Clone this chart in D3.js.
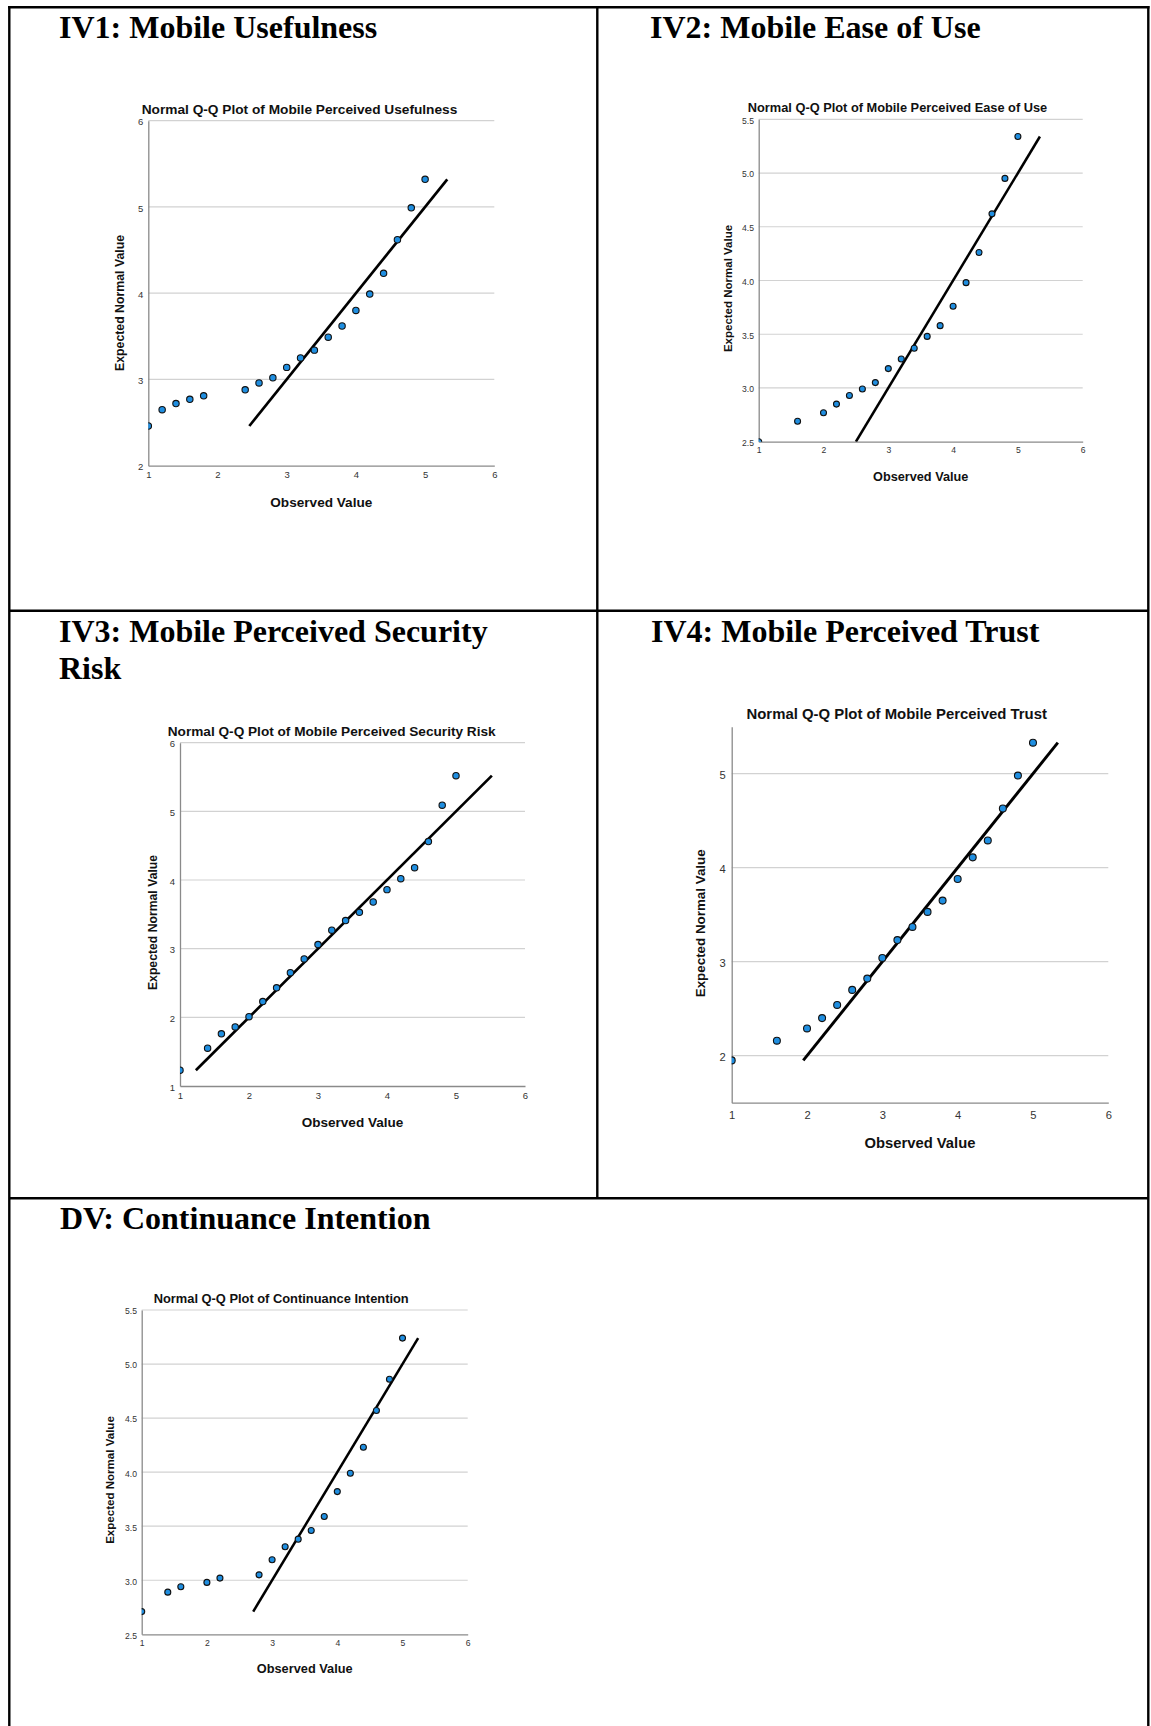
<!DOCTYPE html>
<html>
<head>
<meta charset="utf-8">
<script src="https://cdn.jsdelivr.net/npm/d3@7"></script>
<style>
  html, body { margin: 0; padding: 0; background: #fff; }
  svg { display: block; }
</style>
</head>
<body>
<svg id="page" width="1151" height="1726"></svg>
<script>
// ---- Observed item means and their expected normal quantiles ----
const usefulnessObserved = [1.0, 1.2, 1.4, 1.6, 1.8, 2.4, 2.6, 2.8, 3.0, 3.2, 3.4, 3.6, 3.8, 4.0, 4.2, 4.4, 4.6, 4.8, 5.0];
const usefulnessExpected = [2.46, 2.65, 2.72, 2.77, 2.81, 2.88, 2.96, 3.02, 3.14, 3.25, 3.34, 3.49, 3.62, 3.80, 3.99, 4.23, 4.62, 4.99, 5.32];

const easeObserved = [1.0, 1.6, 2.0, 2.2, 2.4, 2.6, 2.8, 3.0, 3.2, 3.4, 3.6, 3.8, 4.0, 4.2, 4.4, 4.6, 4.8, 5.0];
const easeExpected = [2.50, 2.69, 2.77, 2.85, 2.93, 2.99, 3.05, 3.18, 3.27, 3.37, 3.48, 3.58, 3.76, 3.98, 4.26, 4.62, 4.95, 5.34];

const securityObserved = [1.0, 1.4, 1.6, 1.8, 2.0, 2.2, 2.4, 2.6, 2.8, 3.0, 3.2, 3.4, 3.6, 3.8, 4.0, 4.2, 4.4, 4.6, 4.8, 5.0];
const securityExpected = [1.23, 1.55, 1.76, 1.86, 2.01, 2.23, 2.43, 2.65, 2.85, 3.06, 3.27, 3.41, 3.53, 3.68, 3.86, 4.02, 4.18, 4.56, 5.09, 5.52];

const trustObserved = [1.0, 1.6, 2.0, 2.2, 2.4, 2.6, 2.8, 3.0, 3.2, 3.4, 3.6, 3.8, 4.0, 4.2, 4.4, 4.6, 4.8, 5.0];
const trustExpected = [1.95, 2.16, 2.29, 2.40, 2.54, 2.70, 2.82, 3.04, 3.23, 3.37, 3.53, 3.65, 3.88, 4.11, 4.29, 4.63, 4.98, 5.33];

const continuanceObserved = [1.0, 1.4, 1.6, 2.0, 2.2, 2.8, 3.0, 3.2, 3.4, 3.6, 3.8, 4.0, 4.2, 4.4, 4.6, 4.8, 5.0];
const continuanceExpected = [2.71, 2.89, 2.94, 2.98, 3.02, 3.05, 3.19, 3.31, 3.38, 3.46, 3.59, 3.82, 3.99, 4.23, 4.57, 4.86, 5.24];

// ---- Tick labels ----
const observedTicks = [1, 2, 3, 4, 5, 6];
const intTicks26 = [2, 3, 4, 5, 6];
const intTicks16 = [1, 2, 3, 4, 5, 6];
const intTicks25 = [2, 3, 4, 5];
const halfTicks = [2.5, 3.0, 3.5, 4.0, 4.5, 5.0, 5.5];

// ---- Section headings ----
const headings = [
  { lines: ["IV1: Mobile Usefulness"], x: 59, y: 38 },
  { lines: ["IV2: Mobile Ease of Use"], x: 650, y: 38 },
  { lines: ["IV3: Mobile Perceived Security", "Risk"], x: 59, y: 642 },
  { lines: ["IV4: Mobile Perceived Trust"], x: 651, y: 642 },
  { lines: ["DV: Continuance Intention"], x: 60, y: 1229 }
];

// ---- Chart panels ----
const panels = [
  { title: "Normal Q-Q Plot of Mobile Perceived Usefulness",
    observed: usefulnessObserved, expected: usefulnessExpected,
    yDomain: [2, 6], yTicks: intTicks26, fmt: d3.format("d"), topGrid: true,
    box: { l: 148.3, r: 494.3, t: 120.7, b: 465.7 }, s: 1.0,
    titleX: 299.5, titleY: 114, yTitleX: 124, yTitleY: 303, tickFont: 9.5 },
  { title: "Normal Q-Q Plot of Mobile Perceived Ease of Use",
    observed: easeObserved, expected: easeExpected,
    yDomain: [2.5, 5.5], yTicks: halfTicks, fmt: d3.format(".1f"), topGrid: true,
    box: { l: 758.7, r: 1082.7, t: 119.3, b: 441.7 }, s: 0.935,
    titleX: 897.5, titleY: 111.7, yTitleX: 731.5, yTitleY: 288.5, tickFont: 8.6 },
  { title: "Normal Q-Q Plot of Mobile Perceived Security Risk",
    observed: securityObserved, expected: securityExpected,
    yDomain: [1, 6], yTicks: intTicks16, fmt: d3.format("d"), topGrid: true,
    box: { l: 180, r: 525, t: 742.7, b: 1086 }, s: 0.995,
    titleX: 331.7, titleY: 736, yTitleX: 157.3, yTitleY: 922.5, tickFont: 9.5 },
  { title: "Normal Q-Q Plot of Mobile Perceived Trust",
    observed: trustObserved, expected: trustExpected,
    yDomain: [1.5, 5.5], yTicks: intTicks25, fmt: d3.format("d"), topGrid: false,
    box: { l: 731.7, r: 1108.3, t: 726.7, b: 1102.7 }, s: 1.088,
    titleX: 896.7, titleY: 719.3, yTitleX: 705, yTitleY: 923.3, tickFont: 11.2 },
  { title: "Normal Q-Q Plot of Continuance Intention",
    observed: continuanceObserved, expected: continuanceExpected,
    yDomain: [2.5, 5.5], yTicks: halfTicks, fmt: d3.format(".1f"), topGrid: true,
    box: { l: 141.7, r: 467.7, t: 1310, b: 1634.3 }, s: 0.94,
    titleX: 281.2, titleY: 1303.3, yTitleX: 113.5, yTitleY: 1480, tickFont: 8.6 }
];

const svg = d3.select("#page");
svg.append("rect").attr("width", 1151).attr("height", 1726).attr("fill", "#fff");

// ---- Table frame ----
const frame = svg.append("g").attr("stroke", "#000").attr("stroke-width", 2.4).attr("fill", "none");
frame.append("line").attr("x1", 8.1).attr("x2", 1149.5).attr("y1", 7.3).attr("y2", 7.3);
frame.append("line").attr("x1", 9.3).attr("x2", 9.3).attr("y1", 6.1).attr("y2", 1726);
frame.append("line").attr("x1", 1148.3).attr("x2", 1148.3).attr("y1", 6.1).attr("y2", 1726);
frame.append("line").attr("x1", 597.3).attr("x2", 597.3).attr("y1", 7.3).attr("y2", 1198.3);
frame.append("line").attr("x1", 9.3).attr("x2", 1148.3).attr("y1", 610.7).attr("y2", 610.7);
frame.append("line").attr("x1", 9.3).attr("x2", 1148.3).attr("y1", 1198.3).attr("y2", 1198.3);

// ---- Headings ----
headings.forEach(h => {
  const t = svg.append("text")
    .attr("x", h.x).attr("y", h.y)
    .attr("font-family", "'Liberation Serif', 'Times New Roman', serif")
    .attr("font-weight", "bold").attr("font-size", 32).attr("fill", "#000");
  h.lines.forEach((ln, i) => {
    t.append("tspan").attr("x", h.x).attr("dy", i === 0 ? 0 : 36.8).text(ln);
  });
});

const sans = "'Liberation Sans', Arial, sans-serif";

// ---- Q-Q plots ----
panels.forEach((p, idx) => {
  const s = p.s;
  const x = d3.scaleLinear().domain([1, 6]).range([p.box.l, p.box.r]);
  const y = d3.scaleLinear().domain(p.yDomain).range([p.box.b, p.box.t]);
  const g = svg.append("g");

  // chart title
  g.append("text")
    .attr("x", p.titleX).attr("y", p.titleY)
    .attr("text-anchor", "middle")
    .attr("font-family", sans).attr("font-weight", "bold")
    .attr("font-size", 13.7 * s).attr("fill", "#111")
    .text(p.title);

  // horizontal gridlines
  const gridVals = p.yTicks.filter(v => v > p.yDomain[0] && (p.topGrid || v < p.yDomain[1]));
  g.append("g").selectAll("line").data(gridVals).join("line")
    .attr("x1", p.box.l).attr("x2", p.box.r)
    .attr("y1", d => y(d)).attr("y2", d => y(d))
    .attr("stroke", "#d2d2d2").attr("stroke-width", 1.2);

  // axes
  const xAxis = g.append("g")
    .attr("transform", `translate(0,${p.box.b})`)
    .call(d3.axisBottom(x).tickValues(observedTicks).tickSize(0).tickSizeOuter(0)
      .tickPadding(idx === 3 ? 8 : 6 * s).tickFormat(d3.format("d")));
  const yAxis = g.append("g")
    .attr("transform", `translate(${p.box.l},0)`)
    .call(d3.axisLeft(y).tickValues(p.yTicks).tickSize(0).tickSizeOuter(0)
      .tickPadding(idx === 3 ? 6 : 5 * s).tickFormat(p.fmt));
  [xAxis, yAxis].forEach(a => {
    a.select(".domain").attr("stroke", "#8a8a8a").attr("stroke-width", 1.3);
    a.selectAll("text").attr("font-family", sans).attr("font-size", p.tickFont).attr("fill", "#333");
  });
  yAxis.selectAll("text").attr("dy", "0.45em");

  // axis titles
  g.append("text")
    .attr("x", (p.box.l + p.box.r) / 2).attr("y", p.box.b + 41.5 * s)
    .attr("text-anchor", "middle")
    .attr("font-family", sans).attr("font-weight", "bold")
    .attr("font-size", 13.6 * s).attr("fill", "#111")
    .text("Observed Value");
  g.append("text")
    .attr("transform", `translate(${p.yTitleX},${p.yTitleY}) rotate(-90)`)
    .attr("text-anchor", "middle")
    .attr("font-family", sans).attr("font-weight", "bold")
    .attr("font-size", 12.3 * s).attr("fill", "#111")
    .text("Expected Normal Value");

  // plotting region clip
  const clipId = `plot-clip-${idx}`;
  g.append("clipPath").attr("id", clipId).append("rect")
    .attr("x", p.box.l).attr("y", p.box.t)
    .attr("width", p.box.r - p.box.l).attr("height", p.box.b - p.box.t);
  const plot = g.append("g").attr("clip-path", `url(#${clipId})`);

  // reference line y = x over the range of expected values
  const lo = d3.min(p.expected), hi = d3.max(p.expected);
  plot.append("line")
    .attr("x1", x(lo)).attr("y1", y(lo))
    .attr("x2", x(hi)).attr("y2", y(hi))
    .attr("stroke", "#000").attr("stroke-width", 2.7 * s);

  // points
  const pts = p.observed.map((o, i) => ({ o, e: p.expected[i] }));
  plot.append("g").selectAll("circle").data(pts).join("circle")
    .attr("cx", d => x(d.o)).attr("cy", d => y(d.e))
    .attr("r", 3.2 * s)
    .attr("fill", "#1f8ee0")
    .attr("stroke", "#111").attr("stroke-width", 1.1);
});
</script>
</body>
</html>
